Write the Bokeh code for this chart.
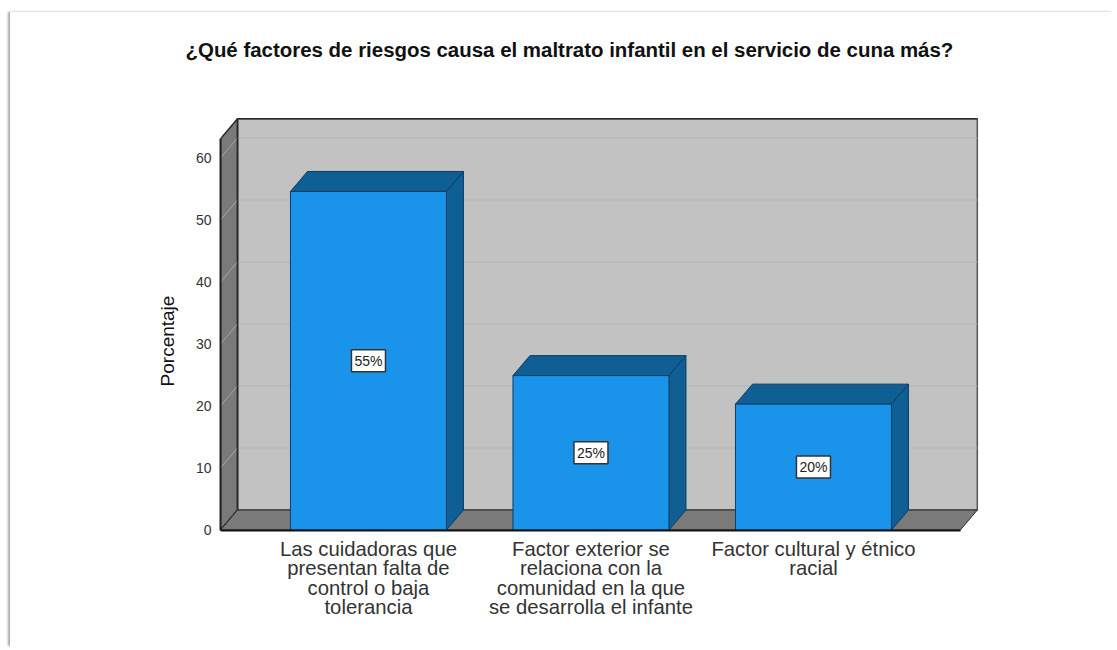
from bokeh.plotting import figure
from bokeh.embed import file_html
from bokeh.resources import INLINE
from bokeh.models import Range1d, FixedTicker
from bokeh.core.properties import value

TITLE = "¿Qué factores de riesgos causa el maltrato infantil en el servicio de cuna más?"
categories = [
    "Las cuidadoras que\npresentan falta de\ncontrol o baja\ntolerancia",
    "Factor exterior se\nrelaciona con la\ncomunidad en la que\nse desarrolla el infante",
    "Factor cultural y étnico\nracial",
]
percentages = [54.6, 24.9, 20.3]
bar_labels = ["55%", "25%", "20%"]
y_ticks = [0, 10, 20, 30, 40, 50, 60]

# 3D geometry, data units
DX = 17 / 222.5
DY = 20 / 6.2
BAR_W = 156 / 222.5
X_LEFT = -0.665
X_RIGHT = 2.66
Y_TOP = 63.1

FONT = "Liberation Sans"
WALL = "#c2c2c2"
SIDE = "#7a7a7a"
GRID = "#b4b4b4"
EDGE = "#2a2a2a"
BAR = "#1a94eb"
BAR_DARK = "#0f5e94"
BAR_EDGE = "#0c3f63"

p = figure(
    width=1105, height=636, output_backend="svg", toolbar_location=None,
    x_range=Range1d(X_LEFT, X_LEFT + 760 / 222.5),
    y_range=Range1d(-91.5 / 6.2, 469.5 / 6.2),
    min_border_left=210, min_border_right=135, min_border_top=48, min_border_bottom=27,
    outline_line_color=None,
)
p.margin = (12, 0, 0, 10)
p.styles = {"box-shadow": "-3px -1px 2px -1px #a8a8a8"}
p.grid.visible = False

# walls
p.patch([X_LEFT + DX, X_RIGHT + DX, X_RIGHT + DX, X_LEFT + DX], [DY, DY, Y_TOP + DY, Y_TOP + DY],
        fill_color=WALL, line_color="#555555", line_width=1.5)
p.patch([X_LEFT, X_LEFT + DX, X_LEFT + DX, X_LEFT], [0, DY, Y_TOP + DY, Y_TOP],
        fill_color=SIDE, line_color=EDGE, line_width=1.5)
p.patch([X_LEFT, X_RIGHT, X_RIGHT + DX, X_LEFT + DX], [0, 0, DY, DY],
        fill_color=SIDE, line_color=EDGE, line_width=1)

# gridlines: across the back wall and down the left wall
grid_values = y_ticks[1:]
p.segment([X_LEFT + DX] * 6, [v + DY for v in grid_values], [X_RIGHT + DX] * 6, [v + DY for v in grid_values],
          line_color=GRID, line_width=1)
p.segment([X_LEFT] * 6, grid_values, [X_LEFT + DX] * 6, [v + DY for v in grid_values],
          line_color="#a6a6a6", line_width=1)
p.line([X_LEFT + DX, X_LEFT + DX], [DY, Y_TOP + DY], line_color=EDGE, line_width=1.5)
p.line([X_LEFT + DX, X_RIGHT + DX], [Y_TOP + DY, Y_TOP + DY], line_color=EDGE, line_width=1.5)

# bars
xs = list(range(len(percentages)))
lefts = [x - BAR_W / 2 for x in xs]
rights = [x + BAR_W / 2 for x in xs]
p.patches([[l, r, r + DX, l + DX] for l, r in zip(lefts, rights)],
          [[v, v, v + DY, v + DY] for v in percentages],
          fill_color=BAR_DARK, line_color=BAR_EDGE, line_width=1)
p.patches([[r, r + DX, r + DX, r] for r in rights],
          [[0, DY, v + DY, v] for v in percentages],
          fill_color=BAR_DARK, line_color=BAR_EDGE, line_width=1)
p.quad(left=lefts, right=rights, bottom=0, top=percentages,
       fill_color=BAR, line_color=BAR_EDGE, line_width=1)

# value labels
p.text(xs, [v / 2 for v in percentages], text=bar_labels, text_align="center", text_baseline="middle",
       text_font=value(FONT), text_font_size="14px", text_color="#222222",
       background_fill_color="white", border_line_color="#333333", border_line_width=1.5, padding=3)

# axes
p.xaxis.fixed_location = 0
p.xaxis.ticker = FixedTicker(ticks=xs)
p.xaxis.major_label_overrides = dict(zip(xs, categories))
p.xaxis.major_label_text_font = FONT
p.xaxis.major_label_text_font_size = "20.3px"
p.xaxis.major_label_text_line_height = 0.88
p.xaxis.major_label_text_color = "#333333"
p.xaxis.major_label_standoff = 2
p.xaxis.major_tick_line_color = None
p.xaxis.minor_tick_line_color = None
p.xaxis.axis_line_color = "#111111"
p.xaxis.axis_line_width = 2
p.xaxis.bounds = (X_LEFT, X_RIGHT)

p.yaxis.ticker = FixedTicker(ticks=y_ticks)
p.yaxis.major_label_text_font = FONT
p.yaxis.major_label_text_font_size = "14px"
p.yaxis.major_label_text_color = "#333333"
p.yaxis.major_label_standoff = 3
p.yaxis.major_tick_line_color = None
p.yaxis.minor_tick_line_color = None
p.yaxis.axis_line_color = "#222222"
p.yaxis.axis_line_width = 2
p.yaxis.bounds = (0, Y_TOP)
p.yaxis.axis_label = "Porcentaje"
p.yaxis.axis_label_text_font = FONT
p.yaxis.axis_label_text_font_style = "normal"
p.yaxis.axis_label_text_font_size = "19px"
p.yaxis.axis_label_text_color = "#111111"
p.yaxis.axis_label_standoff = 15

p.title.text = TITLE
p.title.text_font = FONT
p.title.text_font_size = "20.45px"
p.title.text_font_style = "bold"
p.title.text_color = "#111111"
p.title.align = "left"
p.title.offset = -35
p.title.standoff = 0

open("out.html", "w").write(file_html(p, INLINE))
